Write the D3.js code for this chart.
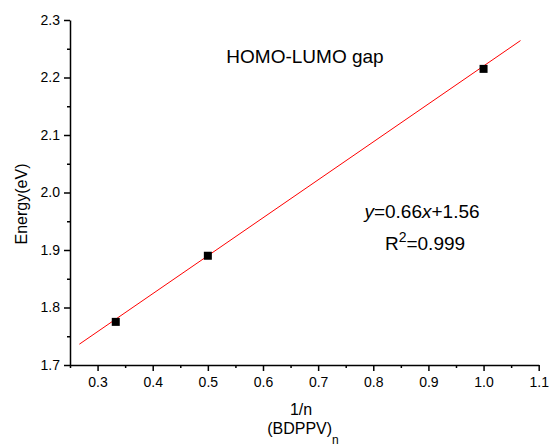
<!DOCTYPE html>
<html>
<head>
<meta charset="utf-8">
<style>
  body { margin: 0; background: #fff; }
  text { font-family: "Liberation Sans", Arial, sans-serif; fill: #000; }
</style>
</head>
<body>
<script src="https://d3js.org/d3.v7.min.js"></script>
<script>
  // data
  var invN = [0.333, 0.5, 1.0];
  var energy = [1.775, 1.89, 2.215];
  var fitSlope = 0.66, fitIntercept = 1.56;
  var fitRange = [0.267, 1.067];
  var xTicks = [0.3, 0.4, 0.5, 0.6, 0.7, 0.8, 0.9, 1.0, 1.1];
  var yTicks = [1.7, 1.8, 1.9, 2.0, 2.1, 2.2, 2.3];

  var W = 551, H = 446;
  var svg = d3.select("body").append("svg").attr("width", W).attr("height", H);

  var x = d3.scaleLinear().domain([0.25, 1.1]).range([70, 538.7]);
  var y = d3.scaleLinear().domain([1.7, 2.3]).range([365, 20]);

  // minor ticks
  var xMinor = d3.range(0.25, 1.1, 0.1).map(function(d) { return +d.toFixed(2); });
  var yMinor = d3.range(1.75, 2.3, 0.1).map(function(d) { return +d.toFixed(2); });

  svg.append("g")
    .attr("transform", "translate(0," + y(1.7) + ")")
    .call(d3.axisBottom(x).tickValues(xMinor).tickSize(3).tickFormat(""))
    .call(function(g) { g.select(".domain").remove(); });
  svg.append("g")
    .attr("transform", "translate(" + x(0.25) + ",0)")
    .call(d3.axisLeft(y).tickValues(yMinor).tickSize(3).tickFormat(""))
    .call(function(g) { g.select(".domain").remove(); });

  svg.append("g")
    .attr("transform", "translate(0," + y(1.7) + ")")
    .call(d3.axisBottom(x).tickValues(xTicks).tickSize(6).tickSizeOuter(0).tickPadding(6)
      .tickFormat(d3.format(".1f")));
  svg.append("g")
    .attr("transform", "translate(" + x(0.25) + ",0)")
    .call(d3.axisLeft(y).tickValues(yTicks).tickSize(6).tickSizeOuter(0).tickPadding(4)
      .tickFormat(d3.format(".1f")));

  svg.selectAll(".domain, .tick line").attr("stroke", "#000").attr("stroke-width", 1.5);
  svg.selectAll(".tick text").style("font-size", "14px").style("font-family", "Liberation Sans, Arial, sans-serif");

  // fit line
  svg.append("line")
    .attr("x1", x(fitRange[0])).attr("y1", y(fitSlope * fitRange[0] + fitIntercept))
    .attr("x2", x(fitRange[1])).attr("y2", y(fitSlope * fitRange[1] + fitIntercept))
    .attr("stroke", "#ff0000").attr("stroke-width", 1);

  // points
  svg.selectAll("rect.pt")
    .data(invN)
    .enter().append("rect")
    .attr("class", "pt")
    .attr("x", function(d) { return x(d) - 4; })
    .attr("y", function(d, i) { return y(energy[i]) - 4; })
    .attr("width", 8).attr("height", 8)
    .attr("fill", "#000");

  // annotations
  svg.append("text").attr("x", 305).attr("y", 63).attr("text-anchor", "middle")
    .style("font-size", "19px").text("HOMO-LUMO gap");

  var eq = svg.append("text").attr("x", 422).attr("y", 218).attr("text-anchor", "middle")
    .style("font-size", "19px");
  eq.append("tspan").attr("font-style", "italic").text("y");
  eq.append("tspan").text("=0.66");
  eq.append("tspan").attr("font-style", "italic").text("x");
  eq.append("tspan").text("+1.56");

  var r2 = svg.append("text").attr("x", 425).attr("y", 250).attr("text-anchor", "middle")
    .style("font-size", "19px");
  r2.append("tspan").text("R");
  r2.append("tspan").attr("dy", -8).style("font-size", "14px").text("2");
  r2.append("tspan").attr("dy", 8).text("=0.999");

  // axis titles
  svg.append("text").attr("transform", "translate(27,204) rotate(-90)")
    .attr("text-anchor", "middle").style("font-size", "16px").text("Energy(eV)");

  svg.append("text").attr("x", 301).attr("y", 415).attr("text-anchor", "middle")
    .style("font-size", "16px").text("1/n");
  var bd = svg.append("text").attr("x", 303).attr("y", 434).attr("text-anchor", "middle")
    .style("font-size", "16px");
  bd.append("tspan").text("(BDPPV)");
  bd.append("tspan").attr("dy", 10).style("font-size", "12px").text("n");
</script>
</body>
</html>
